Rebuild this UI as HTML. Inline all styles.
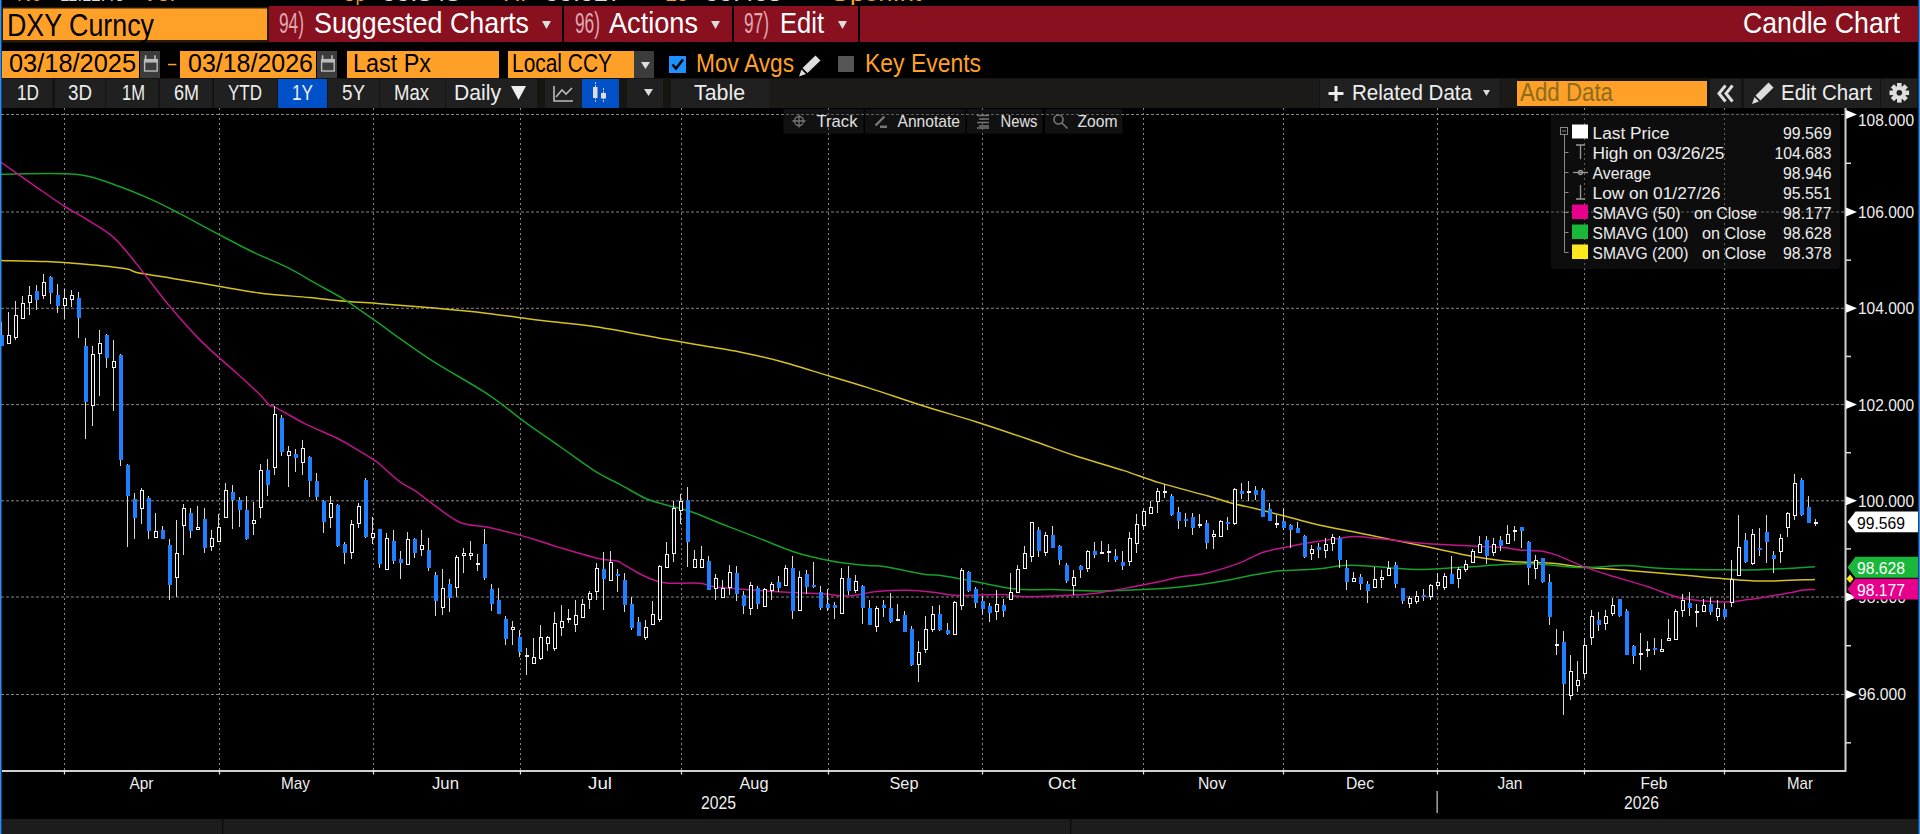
<!DOCTYPE html><html><head><meta charset="utf-8"><style>html,body{margin:0;padding:0;background:#000;overflow:hidden}</style></head><body><svg width="1920" height="834" viewBox="0 0 1920 834" style="display:block;font-family:'Liberation Sans',sans-serif"><rect x="0" y="0" width="1920" height="834" fill="#000" /><g font-size="20"><text x="17" y="1" font-size="20" fill="#ffa028" text-anchor="start" textLength="24" lengthAdjust="spacingAndGlyphs" >Nc</text><text x="60" y="1" font-size="20" fill="#ddd" text-anchor="start" textLength="64" lengthAdjust="spacingAndGlyphs" >11:12:43</text><text x="142" y="1" font-size="20" fill="#ffa028" text-anchor="start" textLength="33" lengthAdjust="spacingAndGlyphs" >Vol</text><text x="343" y="1" font-size="20" fill="#ffa028" text-anchor="start" textLength="22" lengthAdjust="spacingAndGlyphs" >Op</text><text x="382" y="1" font-size="20" fill="#ddd" text-anchor="start" textLength="78" lengthAdjust="spacingAndGlyphs" >99.848</text><text x="503" y="1" font-size="20" fill="#ffa028" text-anchor="start" textLength="23" lengthAdjust="spacingAndGlyphs" >Hi</text><text x="545" y="1" font-size="20" fill="#ddd" text-anchor="start" textLength="77" lengthAdjust="spacingAndGlyphs" >99.927</text><text x="665" y="1" font-size="20" fill="#ffa028" text-anchor="start" textLength="23" lengthAdjust="spacingAndGlyphs" >Lo</text><text x="705" y="1" font-size="20" fill="#ddd" text-anchor="start" textLength="77" lengthAdjust="spacingAndGlyphs" >99.405</text><text x="830" y="1" font-size="20" fill="#ffa028" text-anchor="start" textLength="91" lengthAdjust="spacingAndGlyphs" >OpenInt</text></g><rect x="2" y="7" width="267" height="35.5" fill="#2b1a08" /><rect x="3" y="8.5" width="264" height="31.5" fill="#ffa028" /><text x="7" y="35.5" font-size="31.5" fill="#000" text-anchor="start" textLength="147" lengthAdjust="spacingAndGlyphs" >DXY Curncy</text><rect x="269" y="6" width="1649" height="36" fill="#88101f" /><rect x="562" y="6" width="2" height="36" fill="#000" /><rect x="732" y="6" width="2" height="36" fill="#000" /><rect x="858" y="6" width="2" height="36" fill="#000" /><text x="279" y="33" font-size="29" fill="#e0a8b0" text-anchor="start" textLength="25" lengthAdjust="spacingAndGlyphs" >94)</text><text x="314" y="33" font-size="29" fill="#fff" text-anchor="start" textLength="215" lengthAdjust="spacingAndGlyphs" >Suggested Charts</text><text x="575" y="33" font-size="29" fill="#e0a8b0" text-anchor="start" textLength="25" lengthAdjust="spacingAndGlyphs" >96)</text><text x="609" y="33" font-size="29" fill="#fff" text-anchor="start" textLength="89" lengthAdjust="spacingAndGlyphs" >Actions</text><text x="744" y="33" font-size="29" fill="#e0a8b0" text-anchor="start" textLength="25" lengthAdjust="spacingAndGlyphs" >97)</text><text x="780" y="33" font-size="29" fill="#fff" text-anchor="start" textLength="44" lengthAdjust="spacingAndGlyphs" >Edit</text><path d="M542 21 L551 21 L546.5 29 Z" fill="#ddd"/><path d="M711 21 L720 21 L715.5 29 Z" fill="#ddd"/><path d="M838 21 L847 21 L842.5 29 Z" fill="#ddd"/><text x="1900" y="33" font-size="29" fill="#fff" text-anchor="end" textLength="157" lengthAdjust="spacingAndGlyphs" >Candle Chart</text><rect x="2" y="51" width="137" height="27" fill="#ffa028" /><text x="9" y="72" font-size="26" fill="#000" text-anchor="start" textLength="127" lengthAdjust="spacingAndGlyphs" >03/18/2025</text><rect x="140" y="51" width="20" height="27" fill="#3c3c3c" /><rect x="180" y="51" width="136" height="27" fill="#ffa028" /><text x="188" y="72" font-size="26" fill="#000" text-anchor="start" textLength="125" lengthAdjust="spacingAndGlyphs" >03/18/2026</text><rect x="317" y="51" width="20" height="27" fill="#3c3c3c" /><rect x="144.6" y="59.6" width="12.6" height="11.4" fill="none" stroke="#bbb" stroke-width="1.4"/><rect x="144" y="59" width="13.8" height="3.6" fill="#bbb" /><rect x="144.8" y="55.3" width="1.6" height="4" fill="#bbb" /><rect x="154.2" y="55.3" width="1.6" height="4" fill="#bbb" /><rect x="321.6" y="59.6" width="12.6" height="11.4" fill="none" stroke="#bbb" stroke-width="1.4"/><rect x="321" y="59" width="13.8" height="3.6" fill="#bbb" /><rect x="321.8" y="55.3" width="1.6" height="4" fill="#bbb" /><rect x="331.2" y="55.3" width="1.6" height="4" fill="#bbb" /><rect x="168" y="63.8" width="8.4" height="1.5" fill="#ffa028" /><rect x="347" y="51" width="152" height="27" fill="#ffa028" /><text x="353" y="72" font-size="26" fill="#000" text-anchor="start" textLength="78" lengthAdjust="spacingAndGlyphs" >Last Px</text><rect x="508" y="51" width="126" height="27" fill="#ffa028" /><text x="512" y="72" font-size="26" fill="#000" text-anchor="start" textLength="100" lengthAdjust="spacingAndGlyphs" >Local CCY</text><rect x="634" y="51" width="20" height="27" fill="#3c3c3c" /><path d="M641 62 L650 62 L645.5 69 Z" fill="#ddd"/><rect x="669" y="56" width="17" height="17" fill="#1e90ff" /><path d="M672.5 64.5 L676 68.5 L683 59.5" fill="none" stroke="#000" stroke-width="2.5"/><text x="696" y="72" font-size="26" fill="#ffa028" text-anchor="start" textLength="98" lengthAdjust="spacingAndGlyphs" >Mov Avgs</text><path d="M815.5 55.5 L820.5 60.5 L807.5 73 L802.5 68 Z M801.5 69.5 L806 74 L799 76.5 Z" fill="#ddd"/><rect x="838" y="56" width="16" height="16" fill="#555" /><text x="865" y="72" font-size="26" fill="#ffa028" text-anchor="start" textLength="116" lengthAdjust="spacingAndGlyphs" >Key Events</text><rect x="2" y="78" width="1916" height="30" fill="#141414" /><rect x="769" y="79" width="550" height="29" fill="#1c1a16" /><rect x="2" y="79" width="50" height="29" fill="#202020" /><rect x="55" y="79" width="50" height="29" fill="#202020" /><rect x="106" y="79" width="52" height="29" fill="#202020" /><rect x="160" y="79" width="52" height="29" fill="#202020" /><rect x="214" y="79" width="63" height="29" fill="#202020" /><rect x="278" y="79" width="49" height="29" fill="#0050c8" /><rect x="328" y="79" width="51" height="29" fill="#202020" /><rect x="380" y="79" width="65" height="29" fill="#202020" /><rect x="446" y="79" width="91" height="29" fill="#202020" /><rect x="545" y="79" width="37" height="29" fill="#202020" /><rect x="582" y="79" width="37" height="29" fill="#0050c8" /><rect x="627" y="79" width="36" height="29" fill="#202020" /><rect x="671" y="79" width="98" height="29" fill="#202020" /><rect x="537" y="79" width="8" height="29" fill="#17150f" /><rect x="619" y="79" width="8" height="29" fill="#17150f" /><rect x="663" y="79" width="8" height="29" fill="#17150f" /><text x="17" y="100" font-size="22" fill="#eee" text-anchor="start" textLength="22" lengthAdjust="spacingAndGlyphs" >1D</text><text x="68" y="100" font-size="22" fill="#eee" text-anchor="start" textLength="24" lengthAdjust="spacingAndGlyphs" >3D</text><text x="122" y="100" font-size="22" fill="#eee" text-anchor="start" textLength="23" lengthAdjust="spacingAndGlyphs" >1M</text><text x="174" y="100" font-size="22" fill="#eee" text-anchor="start" textLength="25" lengthAdjust="spacingAndGlyphs" >6M</text><text x="228" y="100" font-size="22" fill="#eee" text-anchor="start" textLength="34" lengthAdjust="spacingAndGlyphs" >YTD</text><text x="292" y="100" font-size="22" fill="#eee" text-anchor="start" textLength="21" lengthAdjust="spacingAndGlyphs" >1Y</text><text x="342" y="100" font-size="22" fill="#eee" text-anchor="start" textLength="23" lengthAdjust="spacingAndGlyphs" >5Y</text><text x="394" y="100" font-size="22" fill="#eee" text-anchor="start" textLength="35" lengthAdjust="spacingAndGlyphs" >Max</text><text x="454" y="100" font-size="22" fill="#eee" text-anchor="start" textLength="47" lengthAdjust="spacingAndGlyphs" >Daily</text><text x="694" y="100" font-size="22" fill="#eee" text-anchor="start" textLength="51" lengthAdjust="spacingAndGlyphs" >Table</text><path d="M511 86 L526 86 L518.5 100 Z" fill="#eee"/><path d="M644 89 L653 89 L648.5 96 Z" fill="#ddd"/><path d="M554 86 L554 101 L573 101 M556 97 L562 90 L566 94 L572 88" fill="none" stroke="#bbb" stroke-width="1.6"/><path d="M595.5 82 V103 M603.5 88 V103" stroke="#ccc" stroke-width="1" stroke-dasharray="2 1"/><rect x="593" y="87" width="4.5" height="11" fill="#ddd" /><rect x="601" y="93" width="5" height="5.5" fill="#ddd" /><rect x="1320" y="79" width="179" height="29" fill="#202020" /><rect x="1499" y="79" width="18" height="29" fill="#1c1a16" /><rect x="1517" y="81" width="190" height="25" fill="#ffa028" /><text x="1520" y="101" font-size="26" fill="#8c6c1e" text-anchor="start" textLength="93" lengthAdjust="spacingAndGlyphs" >Add Data</text><path d="M1336 86 V101 M1328.5 93.5 H1343.5" stroke="#eee" stroke-width="3"/><text x="1352" y="100" font-size="22" fill="#eee" text-anchor="start" textLength="120" lengthAdjust="spacingAndGlyphs" >Related Data</text><path d="M1483 90 L1490 90 L1486.5 96 Z" fill="#ddd"/><rect x="1710" y="79" width="31" height="29" fill="#202020" /><path d="M1725.5 85.5 L1719 93.5 L1725.5 101.5 M1732.5 85.5 L1726 93.5 L1732.5 101.5" fill="none" stroke="#ddd" stroke-width="3"/><rect x="1744" y="79" width="136" height="29" fill="#202020" /><path d="M1768.5 82.5 L1773.5 87.5 L1760.5 100.5 L1755.5 95.5 Z M1754.5 97 L1759 101.5 L1752 104 Z" fill="#ddd"/><text x="1781" y="100" font-size="22" fill="#eee" text-anchor="start" textLength="91" lengthAdjust="spacingAndGlyphs" >Edit Chart</text><rect x="1881" y="79" width="36" height="29" fill="#202020" /><g fill="#ddd"><rect x="1897.0" y="83.0" width="4.6" height="5" transform="rotate(0 1899.3 92.8)"/><rect x="1897.0" y="83.0" width="4.6" height="5" transform="rotate(45 1899.3 92.8)"/><rect x="1897.0" y="83.0" width="4.6" height="5" transform="rotate(90 1899.3 92.8)"/><rect x="1897.0" y="83.0" width="4.6" height="5" transform="rotate(135 1899.3 92.8)"/><rect x="1897.0" y="83.0" width="4.6" height="5" transform="rotate(180 1899.3 92.8)"/><rect x="1897.0" y="83.0" width="4.6" height="5" transform="rotate(225 1899.3 92.8)"/><rect x="1897.0" y="83.0" width="4.6" height="5" transform="rotate(270 1899.3 92.8)"/><rect x="1897.0" y="83.0" width="4.6" height="5" transform="rotate(315 1899.3 92.8)"/><circle cx="1899.3" cy="92.8" r="6.8"/></g><circle cx="1899.3" cy="92.8" r="2.8" fill="#202020"/><rect x="783.5" y="109" width="80.0" height="24.5" fill="#121212"/><rect x="865" y="109" width="100.5" height="24.5" fill="#121212"/><rect x="967" y="109" width="75.5" height="24.5" fill="#121212"/><rect x="1045" y="109" width="77.5" height="24.5" fill="#121212"/><rect x="1551" y="113" width="289" height="156" rx="3" fill="#0e0e0e"/><g id="grid"><line x1="1" y1="114.5" x2="1845" y2="114.5" stroke="#858585" stroke-width="1" stroke-dasharray="3 2"/><line x1="1" y1="212" x2="1845" y2="212" stroke="#858585" stroke-width="1" stroke-dasharray="3 2"/><line x1="1" y1="308.3" x2="1845" y2="308.3" stroke="#858585" stroke-width="1" stroke-dasharray="3 2"/><line x1="1" y1="404.6" x2="1845" y2="404.6" stroke="#858585" stroke-width="1" stroke-dasharray="3 2"/><line x1="1" y1="500.8" x2="1845" y2="500.8" stroke="#858585" stroke-width="1" stroke-dasharray="3 2"/><line x1="1" y1="597.0" x2="1845" y2="597.0" stroke="#858585" stroke-width="1" stroke-dasharray="3 2"/><line x1="1" y1="694.5" x2="1845" y2="694.5" stroke="#858585" stroke-width="1" stroke-dasharray="3 2"/><line x1="64.5" y1="108" x2="64.5" y2="770" stroke="#858585" stroke-width="1" stroke-dasharray="2 3"/><line x1="219.5" y1="108" x2="219.5" y2="770" stroke="#858585" stroke-width="1" stroke-dasharray="2 3"/><line x1="373.5" y1="108" x2="373.5" y2="770" stroke="#858585" stroke-width="1" stroke-dasharray="2 3"/><line x1="520.5" y1="108" x2="520.5" y2="770" stroke="#858585" stroke-width="1" stroke-dasharray="2 3"/><line x1="681.5" y1="108" x2="681.5" y2="770" stroke="#858585" stroke-width="1" stroke-dasharray="2 3"/><line x1="828.5" y1="108" x2="828.5" y2="770" stroke="#858585" stroke-width="1" stroke-dasharray="2 3"/><line x1="982.5" y1="108" x2="982.5" y2="770" stroke="#858585" stroke-width="1" stroke-dasharray="2 3"/><line x1="1143.5" y1="108" x2="1143.5" y2="770" stroke="#858585" stroke-width="1" stroke-dasharray="2 3"/><line x1="1283.5" y1="108" x2="1283.5" y2="770" stroke="#858585" stroke-width="1" stroke-dasharray="2 3"/><line x1="1437.5" y1="108" x2="1437.5" y2="770" stroke="#858585" stroke-width="1" stroke-dasharray="2 3"/><line x1="1584.5" y1="108" x2="1584.5" y2="770" stroke="#858585" stroke-width="1" stroke-dasharray="2 3"/><line x1="1724.5" y1="108" x2="1724.5" y2="770" stroke="#858585" stroke-width="1" stroke-dasharray="2 3"/></g><path d="M0.0 260.5 C7.8 260.7 33.0 261.0 46.8 261.6 C60.6 262.2 69.5 262.9 82.7 264.1 C95.9 265.3 116.9 267.4 125.9 268.8 C134.9 270.2 128.9 270.8 136.7 272.4 C144.5 274.0 159.5 276.3 172.7 278.5 C185.9 280.7 201.4 283.3 215.8 285.7 C230.2 288.1 243.4 290.9 259.0 292.9 C274.6 294.9 295.0 296.2 309.4 297.6 C323.8 299.0 333.5 300.2 345.3 301.2 C357.1 302.2 365.2 302.6 380.0 303.7 C394.8 304.8 416.0 306.4 434.0 308.0 C452.0 309.6 469.9 311.3 487.9 313.4 C505.9 315.5 523.9 318.4 541.9 320.6 C559.9 322.8 574.8 323.5 595.8 326.7 C616.8 329.9 649.8 336.4 667.8 339.6 C685.8 342.8 691.7 343.8 703.7 345.8 C715.7 347.9 727.0 349.3 739.7 351.9 C752.4 354.5 767.6 357.9 780.0 361.2 C792.4 364.4 799.4 367.0 814.0 371.4 C828.6 375.8 849.9 381.9 867.9 387.6 C885.9 393.3 903.9 399.8 921.9 405.5 C939.9 411.2 957.8 416.0 975.8 421.7 C993.8 427.4 1013.1 434.0 1029.8 439.7 C1046.5 445.4 1060.2 450.9 1075.9 456.0 C1091.6 461.1 1109.9 466.1 1123.9 470.6 C1137.9 475.1 1146.0 478.7 1160.0 482.9 C1174.0 487.1 1196.0 492.6 1208.0 496.0 C1220.0 499.4 1222.8 500.8 1232.0 503.2 C1241.2 505.6 1251.1 507.4 1263.1 510.4 C1275.1 513.4 1294.4 518.7 1303.9 521.2 C1313.4 523.7 1309.3 522.9 1320.0 525.2 C1330.7 527.5 1351.2 531.4 1368.0 534.8 C1384.8 538.2 1404.7 542.3 1420.7 545.6 C1436.7 548.9 1452.7 552.5 1463.9 554.7 C1475.1 556.9 1480.0 557.6 1487.9 558.8 C1495.8 559.9 1500.5 560.9 1511.2 561.6 C1521.9 562.3 1539.9 562.3 1551.9 563.2 C1563.9 564.1 1570.3 565.9 1583.1 567.1 C1595.9 568.3 1611.2 569.0 1628.7 570.4 C1646.2 571.8 1672.1 574.2 1688.0 575.6 C1703.9 577.0 1711.9 577.8 1723.9 578.7 C1735.9 579.6 1744.7 581.0 1759.9 581.1 C1775.1 581.2 1805.8 579.7 1815.0 579.4" fill="none" stroke="#d6c21e" stroke-width="1.5" stroke-linejoin="round"/><path d="M0.0 174.2 C12.6 174.2 56.3 172.4 75.5 174.2 C94.7 176.0 102.5 180.8 115.1 185.0 C127.7 189.2 140.3 194.6 151.1 199.4 C161.9 204.2 169.1 208.1 179.9 213.7 C190.7 219.3 203.8 226.5 215.8 232.8 C227.8 239.1 239.8 245.7 251.8 251.5 C263.8 257.3 277.0 262.3 287.8 267.7 C298.6 273.1 306.9 278.5 316.5 283.9 C326.1 289.3 334.7 293.4 345.3 300.1 C355.9 306.8 370.9 317.8 380.0 324.2 C389.1 330.6 391.0 332.3 400.0 338.6 C409.0 344.9 419.4 352.6 434.0 361.9 C448.6 371.2 472.9 384.4 487.9 394.3 C502.9 404.2 511.9 412.6 523.9 421.3 C535.9 430.0 547.9 438.1 559.9 446.5 C571.9 454.9 585.8 465.4 595.8 471.7 C605.8 478.0 611.6 479.9 620.0 484.4 C628.4 488.9 638.4 495.3 646.4 498.8 C654.4 502.3 660.4 503.3 668.0 505.5 C675.6 507.7 681.9 508.5 691.9 512.0 C701.9 515.5 716.5 522.0 727.9 526.4 C739.2 530.8 749.2 534.4 760.0 538.6 C770.8 542.8 783.7 548.4 792.7 551.5 C801.7 554.6 806.4 555.5 814.0 557.3 C821.6 559.1 829.4 560.9 838.4 562.3 C847.4 563.7 860.3 564.9 867.9 565.6 C875.5 566.3 874.9 565.0 883.9 566.4 C892.9 567.8 911.9 572.3 921.9 573.9 C931.9 575.5 934.9 574.6 943.9 575.9 C952.9 577.2 963.8 579.6 975.8 581.8 C987.8 584.0 1003.3 587.8 1016.0 589.1 C1028.7 590.4 1037.9 589.3 1051.9 589.6 C1065.9 589.9 1084.7 591.0 1099.9 591.0 C1115.1 591.0 1129.8 590.3 1143.1 589.6 C1156.4 588.9 1168.4 588.1 1180.0 587.0 C1191.6 585.9 1200.1 584.9 1212.8 582.8 C1225.5 580.7 1244.7 576.6 1255.9 574.6 C1267.1 572.6 1269.9 571.7 1279.9 570.8 C1289.9 569.9 1305.2 570.0 1315.9 569.1 C1326.6 568.2 1335.3 566.0 1344.0 565.5 C1352.7 565.0 1356.0 565.2 1368.0 565.9 C1380.0 566.6 1399.9 569.3 1415.9 569.5 C1431.9 569.7 1445.2 568.1 1463.9 567.1 C1482.6 566.1 1508.1 563.7 1528.0 563.8 C1547.9 563.9 1567.1 567.3 1583.1 567.6 C1599.1 567.9 1610.4 565.5 1623.9 565.6 C1637.4 565.7 1647.3 567.7 1664.0 568.4 C1680.7 569.1 1707.9 569.6 1723.9 569.8 C1739.9 570.0 1747.9 570.1 1759.9 569.8 C1771.9 569.5 1786.7 568.4 1795.9 567.9 C1805.1 567.4 1811.8 566.9 1815.0 566.7" fill="none" stroke="#14a02a" stroke-width="1.5" stroke-linejoin="round"/><path d="M0.0 161.6 C6.0 165.8 25.2 179.3 36.0 186.8 C46.8 194.3 56.3 201.1 64.7 206.5 C73.1 211.9 78.2 214.0 86.3 219.1 C94.4 224.2 104.9 229.6 113.3 237.1 C121.7 244.6 127.4 252.7 136.7 264.1 C146.0 275.5 158.3 292.6 169.1 305.5 C179.9 318.4 190.0 330.0 201.4 341.4 C212.8 352.8 227.6 364.9 237.4 373.8 C247.2 382.7 254.6 389.5 260.0 394.8 C265.4 400.1 267.4 403.5 269.8 405.5 C272.2 407.5 268.4 403.7 274.4 406.8 C280.4 409.9 295.4 419.0 305.8 424.2 C316.2 429.4 328.4 433.9 336.7 438.0 C345.0 442.1 349.5 445.0 355.9 448.8 C362.3 452.6 371.1 458.1 375.1 460.7 C379.1 463.3 376.0 461.1 380.0 464.5 C384.0 467.9 393.1 476.6 399.1 481.1 C405.1 485.6 411.2 488.2 416.0 491.4 C420.8 494.6 420.7 495.2 427.9 500.3 C435.1 505.4 449.1 517.5 459.1 522.0 C469.1 526.5 477.6 524.9 488.0 527.2 C498.4 529.5 512.5 533.2 521.5 535.6 C530.5 538.0 535.5 539.8 541.9 541.8 C548.3 543.8 550.9 544.9 559.9 547.6 C568.9 550.3 586.3 555.6 595.9 557.9 C605.5 560.2 613.5 560.5 617.5 561.2 C621.5 561.9 616.2 560.2 620.0 562.3 C623.8 564.4 634.0 570.9 640.0 574.0 C646.0 577.1 651.3 579.3 656.0 580.8 C660.7 582.3 660.8 582.8 668.0 583.2 C675.2 583.6 691.1 582.6 699.1 583.2 C707.1 583.8 707.2 585.9 716.0 587.0 C724.8 588.1 739.9 589.0 751.9 589.9 C763.9 590.8 776.5 591.7 787.9 592.3 C799.2 592.9 810.0 592.9 820.0 593.5 C830.0 594.1 838.5 596.2 848.0 595.9 C857.5 595.6 866.7 592.4 876.7 591.5 C886.7 590.6 897.9 590.1 907.9 590.3 C917.9 590.5 928.4 591.8 936.7 592.7 C945.0 593.6 947.2 595.2 957.8 595.5 C968.3 595.8 988.3 594.3 1000.0 594.5 C1011.7 594.7 1015.8 596.7 1028.0 596.8 C1040.2 596.9 1061.5 595.8 1073.5 595.1 C1085.5 594.4 1089.9 594.1 1099.9 592.7 C1109.9 591.3 1123.5 588.6 1133.5 586.7 C1143.5 584.8 1152.2 583.1 1160.0 581.5 C1167.8 579.9 1172.0 578.6 1180.0 577.1 C1188.0 575.6 1198.2 575.0 1208.0 572.7 C1217.8 570.4 1229.9 566.5 1239.1 563.1 C1248.3 559.7 1255.5 554.9 1263.1 552.3 C1270.7 549.7 1277.1 549.1 1284.7 547.5 C1292.3 545.9 1299.1 544.3 1308.7 542.7 C1318.3 541.1 1333.8 538.9 1342.3 537.9 C1350.8 536.9 1347.7 535.9 1360.0 536.7 C1372.3 537.5 1398.6 541.2 1415.9 542.7 C1433.2 544.2 1449.5 544.8 1463.9 545.6 C1478.3 546.4 1493.0 546.8 1502.3 547.5 C1511.6 548.2 1513.3 549.3 1520.0 549.9 C1526.7 550.5 1536.3 550.3 1542.4 551.2 C1548.5 552.1 1549.9 552.6 1556.7 555.1 C1563.5 557.6 1574.3 563.0 1583.1 566.4 C1591.9 569.8 1598.7 571.8 1609.5 575.2 C1620.3 578.6 1636.0 582.9 1647.9 586.7 C1659.8 590.5 1668.1 595.4 1680.8 597.9 C1693.5 600.4 1712.7 601.7 1723.9 602.0 C1735.1 602.3 1740.7 600.5 1747.9 599.6 C1755.1 598.7 1760.3 597.8 1767.1 596.7 C1773.9 595.6 1782.7 594.2 1788.7 593.1 C1794.7 592.0 1798.7 590.6 1803.1 590.0 C1807.5 589.4 1813.0 589.6 1815.0 589.5" fill="none" stroke="#c0148c" stroke-width="1.5" stroke-linejoin="round"/><path d="M1.5 322V346M8.5 312V344M15.5 301V340M22.5 296V319M29.5 286V315M36.5 285V310M43.5 274V299M50.5 276V304M57.5 284V313M64.5 289V319M71.5 290V307M78.5 292V338M85.5 338V439M92.5 346V426M99.5 330V396M106.5 334V368M113.5 340V411M120.5 354V466M127.5 464V547M134.5 493V539M141.5 488V524M148.5 496V539M155.5 513V538M162.5 526V539M169.5 539V600M176.5 520V597M183.5 504V555M190.5 508V538M197.5 506V530M204.5 508V553M211.5 530V551M218.5 514V542M225.5 483V518M232.5 485V529M239.5 497V527M246.5 496V540M253.5 502V535M260.5 464V518M267.5 459V496M274.5 406V475M281.5 415V456M288.5 446V487M295.5 449V472M302.5 440V475M309.5 456V497M316.5 473V500M323.5 500V533M330.5 496V528M337.5 504V547M344.5 542V564M351.5 520V559M358.5 503V528M365.5 478V538M372.5 517V544M379.5 529V568M386.5 533V570M393.5 530V564M400.5 551V579M407.5 532V565M414.5 538V558M421.5 530V556M428.5 538V571M435.5 572V616M442.5 569V615M449.5 579V612M456.5 555V597M463.5 548V573M470.5 541V560M477.5 554V571M484.5 529V580M491.5 584V611M498.5 588V614M505.5 616V645M512.5 621V645M519.5 630V657M526.5 648V675M533.5 638V664M540.5 625V660M547.5 636V651M554.5 612V651M561.5 605V636M568.5 609V623M575.5 600V632M582.5 599V618M589.5 591V609M596.5 563V600M603.5 552V610M610.5 551V581M617.5 569V592M624.5 573V612M631.5 597V630M638.5 617V636M645.5 620V640M652.5 601V625M659.5 565V622M666.5 542V568M673.5 501V562M680.5 494V524M687.5 487V567M694.5 550V568M701.5 546V568M708.5 556V590M715.5 574V600M722.5 580V598M729.5 565V595M736.5 566V601M743.5 591V614M750.5 582V615M757.5 586V609M764.5 588V607M771.5 582V600M778.5 576V592M785.5 565V586M792.5 556V619M799.5 571V611M806.5 570V594M813.5 562V588M820.5 586V610M827.5 589V611M834.5 602V619M841.5 568V614M848.5 566V595M855.5 575V593M862.5 585V624M869.5 600V625M876.5 606V632M883.5 600V617M890.5 593V623M897.5 604V621M904.5 611V632M911.5 626V666M918.5 641V682M925.5 616V653M932.5 606V632M939.5 605V631M947.5 623V635M954.5 601V635M961.5 568V610M968.5 571V592M975.5 587V608M982.5 596V615M989.5 603V622M996.5 590V620M1003.5 599V617M1010.5 573V600M1017.5 565V593M1024.5 546V569M1031.5 522V562M1038.5 527V557M1045.5 532V556M1052.5 526V548M1059.5 545V565M1066.5 563V583M1073.5 570V595M1080.5 565V578M1087.5 550V572M1094.5 542V558M1101.5 541V554M1108.5 544V562M1115.5 549V562M1122.5 551V570M1129.5 532V566M1136.5 514V553M1143.5 508V530M1150.5 501V514M1157.5 488V513M1164.5 484V498M1171.5 494V516M1178.5 507V529M1185.5 513V527M1192.5 513V535M1199.5 514V528M1206.5 520V549M1213.5 530V549M1220.5 520V537M1227.5 517V530M1234.5 488V525M1241.5 483V499M1248.5 481V501M1255.5 486V500M1262.5 488V517M1269.5 503V521M1276.5 515V528M1283.5 508V530M1290.5 524V548M1297.5 522V533M1304.5 535V558M1311.5 545V560M1318.5 543V558M1325.5 538V558M1332.5 534V551M1339.5 536V568M1346.5 560V590M1353.5 572V582M1360.5 574V590M1367.5 581V603M1374.5 567V588M1381.5 570V588M1388.5 561V576M1395.5 562V588M1402.5 588V604M1409.5 596V608M1416.5 591V604M1423.5 589V601M1430.5 584V600M1437.5 573V589M1444.5 573V590M1451.5 556V584M1458.5 567V588M1465.5 560V572M1472.5 549V563M1479.5 536V553M1486.5 536V564M1493.5 538V556M1500.5 536V551M1507.5 525V544M1514.5 526V541M1521.5 527V548M1528.5 541V585M1535.5 555V579M1542.5 558V583M1549.5 574V625M1556.5 629V655M1563.5 631V715M1570.5 655V700M1577.5 661V692M1584.5 638V678M1591.5 610V645M1598.5 612V631M1605.5 610V630M1612.5 598V616M1619.5 599V617M1626.5 609V655M1633.5 645V664M1640.5 633V670M1647.5 641V657M1654.5 638V655M1661.5 639V652M1668.5 619V641M1675.5 609V640M1682.5 594V617M1689.5 592V616M1696.5 604V627M1703.5 599V612M1710.5 597V615M1717.5 600V621M1724.5 603V618M1731.5 560V607M1738.5 515V576M1745.5 533V563M1752.5 529V565M1759.5 528V556M1766.5 515V563M1773.5 551V573M1780.5 534V563M1787.5 512V537M1794.5 474V520M1801.5 478V516M1808.5 496V523M1815.5 519V526" stroke="#d8d8d8" stroke-width="1" fill="none"/><g fill="#000" stroke="#f2f2f2" stroke-width="1"><rect x="7.5" y="335.5" width="3" height="8"/><rect x="14.5" y="315.5" width="3" height="22"/><rect x="21.5" y="303.5" width="3" height="15"/><rect x="28.5" y="295.5" width="3" height="7"/><rect x="42.5" y="282.5" width="3" height="13"/><rect x="63.5" y="298.5" width="3" height="7"/><rect x="70.5" y="295.5" width="3" height="4"/><rect x="91.5" y="354.5" width="3" height="51"/><rect x="98.5" y="343.5" width="3" height="10"/><rect x="112.5" y="361.5" width="3" height="6"/><rect x="140.5" y="490.5" width="3" height="18"/><rect x="154.5" y="531.5" width="3" height="6"/><rect x="175.5" y="553.5" width="3" height="24"/><rect x="182.5" y="508.5" width="3" height="17"/><rect x="196.5" y="527.5" width="3" height="2"/><rect x="210.5" y="538.5" width="3" height="8"/><rect x="217.5" y="527.5" width="3" height="14"/><rect x="224.5" y="490.5" width="3" height="27"/><rect x="252.5" y="520.5" width="3" height="3"/><rect x="259.5" y="470.5" width="3" height="37"/><rect x="273.5" y="414.5" width="3" height="53"/><rect x="287.5" y="451.5" width="3" height="4"/><rect x="301.5" y="448.5" width="3" height="14"/><rect x="329.5" y="503.5" width="3" height="14"/><rect x="350.5" y="524.5" width="3" height="28"/><rect x="357.5" y="506.5" width="3" height="17"/><rect x="371.5" y="533.5" width="3" height="4"/><rect x="385.5" y="538.5" width="3" height="31"/><rect x="406.5" y="539.5" width="3" height="25"/><rect x="420.5" y="545.5" width="3" height="4"/><rect x="441.5" y="588.5" width="3" height="19"/><rect x="455.5" y="557.5" width="3" height="30"/><rect x="462.5" y="553.5" width="3" height="2"/><rect x="469.5" y="553.5" width="3" height="2"/><rect x="476.5" y="563.5" width="3" height="1"/><rect x="511.5" y="627.5" width="3" height="2"/><rect x="525.5" y="655.5" width="3" height="1"/><rect x="532.5" y="657.5" width="3" height="6"/><rect x="539.5" y="637.5" width="3" height="21"/><rect x="546.5" y="637.5" width="3" height="6"/><rect x="553.5" y="623.5" width="3" height="25"/><rect x="560.5" y="621.5" width="3" height="6"/><rect x="567.5" y="618.5" width="3" height="1"/><rect x="574.5" y="615.5" width="3" height="9"/><rect x="581.5" y="604.5" width="3" height="13"/><rect x="588.5" y="593.5" width="3" height="6"/><rect x="595.5" y="568.5" width="3" height="23"/><rect x="609.5" y="562.5" width="3" height="18"/><rect x="644.5" y="627.5" width="3" height="10"/><rect x="651.5" y="614.5" width="3" height="10"/><rect x="658.5" y="566.5" width="3" height="53"/><rect x="665.5" y="554.5" width="3" height="13"/><rect x="672.5" y="508.5" width="3" height="45"/><rect x="679.5" y="501.5" width="3" height="9"/><rect x="693.5" y="559.5" width="3" height="8"/><rect x="700.5" y="559.5" width="3" height="8"/><rect x="714.5" y="578.5" width="3" height="10"/><rect x="721.5" y="588.5" width="3" height="9"/><rect x="728.5" y="572.5" width="3" height="15"/><rect x="749.5" y="585.5" width="3" height="23"/><rect x="763.5" y="589.5" width="3" height="17"/><rect x="770.5" y="584.5" width="3" height="6"/><rect x="784.5" y="568.5" width="3" height="17"/><rect x="798.5" y="577.5" width="3" height="33"/><rect x="840.5" y="578.5" width="3" height="35"/><rect x="854.5" y="581.5" width="3" height="9"/><rect x="875.5" y="608.5" width="3" height="18"/><rect x="896.5" y="619.5" width="3" height="1"/><rect x="917.5" y="652.5" width="3" height="12"/><rect x="924.5" y="629.5" width="3" height="20"/><rect x="931.5" y="614.5" width="3" height="15"/><rect x="953.5" y="602.5" width="3" height="32"/><rect x="960.5" y="570.5" width="3" height="35"/><rect x="995.5" y="604.5" width="3" height="7"/><rect x="1009.5" y="592.5" width="3" height="7"/><rect x="1016.5" y="569.5" width="3" height="23"/><rect x="1023.5" y="553.5" width="3" height="15"/><rect x="1030.5" y="522.5" width="3" height="34"/><rect x="1044.5" y="535.5" width="3" height="17"/><rect x="1072.5" y="577.5" width="3" height="8"/><rect x="1086.5" y="551.5" width="3" height="17"/><rect x="1100.5" y="552.5" width="3" height="1"/><rect x="1107.5" y="551.5" width="3" height="1"/><rect x="1128.5" y="538.5" width="3" height="23"/><rect x="1135.5" y="524.5" width="3" height="19"/><rect x="1142.5" y="511.5" width="3" height="14"/><rect x="1149.5" y="507.5" width="3" height="6"/><rect x="1156.5" y="491.5" width="3" height="10"/><rect x="1163.5" y="491.5" width="3" height="1"/><rect x="1198.5" y="524.5" width="3" height="1"/><rect x="1212.5" y="534.5" width="3" height="2"/><rect x="1219.5" y="521.5" width="3" height="15"/><rect x="1233.5" y="489.5" width="3" height="34"/><rect x="1247.5" y="491.5" width="3" height="1"/><rect x="1275.5" y="523.5" width="3" height="1"/><rect x="1310.5" y="549.5" width="3" height="4"/><rect x="1324.5" y="544.5" width="3" height="6"/><rect x="1331.5" y="537.5" width="3" height="6"/><rect x="1352.5" y="578.5" width="3" height="3"/><rect x="1373.5" y="579.5" width="3" height="8"/><rect x="1380.5" y="577.5" width="3" height="2"/><rect x="1387.5" y="568.5" width="3" height="7"/><rect x="1408.5" y="598.5" width="3" height="5"/><rect x="1415.5" y="596.5" width="3" height="5"/><rect x="1429.5" y="585.5" width="3" height="11"/><rect x="1436.5" y="582.5" width="3" height="3"/><rect x="1443.5" y="576.5" width="3" height="11"/><rect x="1457.5" y="569.5" width="3" height="9"/><rect x="1464.5" y="564.5" width="3" height="5"/><rect x="1471.5" y="551.5" width="3" height="11"/><rect x="1478.5" y="544.5" width="3" height="8"/><rect x="1492.5" y="544.5" width="3" height="8"/><rect x="1506.5" y="534.5" width="3" height="9"/><rect x="1513.5" y="530.5" width="3" height="1"/><rect x="1534.5" y="560.5" width="3" height="8"/><rect x="1555.5" y="644.5" width="3" height="1"/><rect x="1569.5" y="671.5" width="3" height="24"/><rect x="1576.5" y="680.5" width="3" height="5"/><rect x="1583.5" y="645.5" width="3" height="28"/><rect x="1590.5" y="616.5" width="3" height="21"/><rect x="1604.5" y="616.5" width="3" height="7"/><rect x="1611.5" y="605.5" width="3" height="8"/><rect x="1639.5" y="653.5" width="3" height="1"/><rect x="1646.5" y="649.5" width="3" height="1"/><rect x="1660.5" y="649.5" width="3" height="2"/><rect x="1667.5" y="638.5" width="3" height="2"/><rect x="1674.5" y="611.5" width="3" height="28"/><rect x="1681.5" y="600.5" width="3" height="10"/><rect x="1695.5" y="611.5" width="3" height="1"/><rect x="1702.5" y="605.5" width="3" height="6"/><rect x="1716.5" y="608.5" width="3" height="8"/><rect x="1730.5" y="579.5" width="3" height="23"/><rect x="1737.5" y="547.5" width="3" height="28"/><rect x="1751.5" y="534.5" width="3" height="29"/><rect x="1779.5" y="538.5" width="3" height="13"/><rect x="1786.5" y="513.5" width="3" height="14"/><rect x="1793.5" y="483.5" width="3" height="32"/><rect x="1814.5" y="522.5" width="3" height="1"/></g><g fill="#1f80ff"><rect x="0" y="335" width="4" height="11"/><rect x="35" y="291" width="4" height="9"/><rect x="49" y="277" width="4" height="16"/><rect x="56" y="295" width="4" height="11"/><rect x="77" y="298" width="4" height="20"/><rect x="84" y="346" width="4" height="56"/><rect x="105" y="335" width="4" height="23"/><rect x="119" y="355" width="4" height="105"/><rect x="126" y="465" width="4" height="31"/><rect x="133" y="499" width="4" height="19"/><rect x="147" y="498" width="4" height="33"/><rect x="161" y="530" width="4" height="9"/><rect x="168" y="545" width="4" height="40"/><rect x="189" y="513" width="4" height="18"/><rect x="203" y="519" width="4" height="29"/><rect x="231" y="492" width="4" height="8"/><rect x="238" y="500" width="4" height="10"/><rect x="245" y="510" width="4" height="29"/><rect x="266" y="470" width="4" height="15"/><rect x="280" y="418" width="4" height="34"/><rect x="294" y="454" width="4" height="4"/><rect x="308" y="457" width="4" height="24"/><rect x="315" y="481" width="4" height="16"/><rect x="322" y="501" width="4" height="21"/><rect x="336" y="505" width="4" height="41"/><rect x="343" y="544" width="4" height="9"/><rect x="364" y="480" width="4" height="57"/><rect x="378" y="529" width="4" height="35"/><rect x="392" y="541" width="4" height="20"/><rect x="399" y="559" width="4" height="4"/><rect x="413" y="539" width="4" height="14"/><rect x="427" y="550" width="4" height="18"/><rect x="434" y="575" width="4" height="26"/><rect x="448" y="584" width="4" height="14"/><rect x="483" y="544" width="4" height="34"/><rect x="490" y="589" width="4" height="15"/><rect x="497" y="600" width="4" height="14"/><rect x="504" y="619" width="4" height="20"/><rect x="518" y="637" width="4" height="15"/><rect x="602" y="569" width="4" height="10"/><rect x="616" y="574" width="4" height="2"/><rect x="623" y="580" width="4" height="25"/><rect x="630" y="604" width="4" height="24"/><rect x="637" y="622" width="4" height="14"/><rect x="686" y="500" width="4" height="42"/><rect x="707" y="561" width="4" height="29"/><rect x="735" y="573" width="4" height="21"/><rect x="742" y="595" width="4" height="11"/><rect x="756" y="588" width="4" height="16"/><rect x="777" y="582" width="4" height="6"/><rect x="791" y="568" width="4" height="43"/><rect x="805" y="574" width="4" height="13"/><rect x="812" y="585" width="4" height="2"/><rect x="819" y="592" width="4" height="16"/><rect x="826" y="604" width="4" height="4"/><rect x="833" y="605" width="4" height="3"/><rect x="847" y="578" width="4" height="13"/><rect x="861" y="586" width="4" height="22"/><rect x="868" y="608" width="4" height="17"/><rect x="882" y="605" width="4" height="3"/><rect x="889" y="608" width="4" height="14"/><rect x="903" y="615" width="4" height="17"/><rect x="910" y="629" width="4" height="36"/><rect x="938" y="614" width="4" height="16"/><rect x="946" y="630" width="4" height="4"/><rect x="967" y="572" width="4" height="19"/><rect x="974" y="589" width="4" height="14"/><rect x="981" y="601" width="4" height="8"/><rect x="988" y="606" width="4" height="7"/><rect x="1002" y="605" width="4" height="6"/><rect x="1037" y="530" width="4" height="21"/><rect x="1051" y="535" width="4" height="13"/><rect x="1058" y="546" width="4" height="14"/><rect x="1065" y="565" width="4" height="16"/><rect x="1079" y="566" width="4" height="4"/><rect x="1093" y="551" width="4" height="4"/><rect x="1114" y="556" width="4" height="4"/><rect x="1121" y="562" width="4" height="4"/><rect x="1170" y="496" width="4" height="19"/><rect x="1177" y="512" width="4" height="9"/><rect x="1184" y="519" width="4" height="2"/><rect x="1191" y="517" width="4" height="11"/><rect x="1205" y="523" width="4" height="20"/><rect x="1226" y="522" width="4" height="2"/><rect x="1240" y="491" width="4" height="3"/><rect x="1254" y="490" width="4" height="5"/><rect x="1261" y="490" width="4" height="27"/><rect x="1268" y="509" width="4" height="12"/><rect x="1282" y="521" width="4" height="7"/><rect x="1289" y="525" width="4" height="5"/><rect x="1296" y="528" width="4" height="5"/><rect x="1303" y="536" width="4" height="21"/><rect x="1317" y="547" width="4" height="3"/><rect x="1338" y="538" width="4" height="22"/><rect x="1345" y="568" width="4" height="14"/><rect x="1359" y="577" width="4" height="7"/><rect x="1366" y="584" width="4" height="7"/><rect x="1394" y="565" width="4" height="19"/><rect x="1401" y="588" width="4" height="13"/><rect x="1422" y="595" width="4" height="2"/><rect x="1450" y="574" width="4" height="10"/><rect x="1485" y="540" width="4" height="16"/><rect x="1499" y="540" width="4" height="6"/><rect x="1520" y="527" width="4" height="4"/><rect x="1527" y="542" width="4" height="26"/><rect x="1541" y="558" width="4" height="24"/><rect x="1548" y="582" width="4" height="35"/><rect x="1562" y="642" width="4" height="42"/><rect x="1597" y="620" width="4" height="5"/><rect x="1618" y="599" width="4" height="17"/><rect x="1625" y="611" width="4" height="44"/><rect x="1632" y="646" width="4" height="10"/><rect x="1653" y="648" width="4" height="2"/><rect x="1688" y="603" width="4" height="5"/><rect x="1709" y="604" width="4" height="8"/><rect x="1723" y="609" width="4" height="8"/><rect x="1744" y="540" width="4" height="22"/><rect x="1758" y="548" width="4" height="2"/><rect x="1765" y="532" width="4" height="10"/><rect x="1772" y="555" width="4" height="4"/><rect x="1800" y="480" width="4" height="35"/><rect x="1807" y="507" width="4" height="16"/></g><path d="M2 771 H1845.5 V108" fill="none" stroke="#d0d0d0" stroke-width="2"/><line x1="64.5" y1="770" x2="64.5" y2="774.5" stroke="#ddd" stroke-width="1.3"/><line x1="219.5" y1="770" x2="219.5" y2="774.5" stroke="#ddd" stroke-width="1.3"/><line x1="373.5" y1="770" x2="373.5" y2="774.5" stroke="#ddd" stroke-width="1.3"/><line x1="520.5" y1="770" x2="520.5" y2="774.5" stroke="#ddd" stroke-width="1.3"/><line x1="681.5" y1="770" x2="681.5" y2="774.5" stroke="#ddd" stroke-width="1.3"/><line x1="828.5" y1="770" x2="828.5" y2="774.5" stroke="#ddd" stroke-width="1.3"/><line x1="982.5" y1="770" x2="982.5" y2="774.5" stroke="#ddd" stroke-width="1.3"/><line x1="1143.5" y1="770" x2="1143.5" y2="774.5" stroke="#ddd" stroke-width="1.3"/><line x1="1283.5" y1="770" x2="1283.5" y2="774.5" stroke="#ddd" stroke-width="1.3"/><line x1="1437.5" y1="770" x2="1437.5" y2="774.5" stroke="#ddd" stroke-width="1.3"/><line x1="1584.5" y1="770" x2="1584.5" y2="774.5" stroke="#ddd" stroke-width="1.3"/><line x1="1724.5" y1="770" x2="1724.5" y2="774.5" stroke="#ddd" stroke-width="1.3"/><line x1="1846" y1="163.25" x2="1851" y2="163.25" stroke="#ddd" stroke-width="1.5"/><line x1="1846" y1="260.15" x2="1851" y2="260.15" stroke="#ddd" stroke-width="1.5"/><line x1="1846" y1="356.45000000000005" x2="1851" y2="356.45000000000005" stroke="#ddd" stroke-width="1.5"/><line x1="1846" y1="452.70000000000005" x2="1851" y2="452.70000000000005" stroke="#ddd" stroke-width="1.5"/><line x1="1846" y1="548.9" x2="1851" y2="548.9" stroke="#ddd" stroke-width="1.5"/><line x1="1846" y1="645.75" x2="1851" y2="645.75" stroke="#ddd" stroke-width="1.5"/><line x1="1846" y1="742.8" x2="1851" y2="742.8" stroke="#ddd" stroke-width="1.5"/><path d="M1846 110.0 L1857 114.5 L1846 119.0 Z" fill="#fff"/><text x="1858" y="125.5" font-size="17" fill="#eee" text-anchor="start" textLength="56" lengthAdjust="spacingAndGlyphs" >108.000</text><path d="M1846 207.5 L1857 212.0 L1846 216.5 Z" fill="#fff"/><text x="1858" y="218" font-size="17" fill="#eee" text-anchor="start" textLength="56" lengthAdjust="spacingAndGlyphs" >106.000</text><path d="M1846 303.8 L1857 308.3 L1846 312.8 Z" fill="#fff"/><text x="1858" y="314" font-size="17" fill="#eee" text-anchor="start" textLength="56" lengthAdjust="spacingAndGlyphs" >104.000</text><path d="M1846 400.1 L1857 404.6 L1846 409.1 Z" fill="#fff"/><text x="1858" y="411" font-size="17" fill="#eee" text-anchor="start" textLength="56" lengthAdjust="spacingAndGlyphs" >102.000</text><path d="M1846 496.3 L1857 500.8 L1846 505.3 Z" fill="#fff"/><text x="1858" y="507" font-size="17" fill="#eee" text-anchor="start" textLength="56" lengthAdjust="spacingAndGlyphs" >100.000</text><path d="M1846 592.5 L1857 597.0 L1846 601.5 Z" fill="#fff"/><text x="1858" y="603" font-size="17" fill="#eee" text-anchor="start" textLength="48" lengthAdjust="spacingAndGlyphs" >98.000</text><path d="M1846 690.0 L1857 694.5 L1846 699.0 Z" fill="#fff"/><text x="1858" y="700" font-size="17" fill="#eee" text-anchor="start" textLength="48" lengthAdjust="spacingAndGlyphs" >96.000</text><text x="141.5" y="789" font-size="17" fill="#eee" text-anchor="middle" textLength="24" lengthAdjust="spacingAndGlyphs" >Apr</text><text x="295.5" y="789" font-size="17" fill="#eee" text-anchor="middle" textLength="29" lengthAdjust="spacingAndGlyphs" >May</text><text x="445.5" y="789" font-size="17" fill="#eee" text-anchor="middle" textLength="27" lengthAdjust="spacingAndGlyphs" >Jun</text><text x="600" y="789" font-size="17" fill="#eee" text-anchor="middle" textLength="24" lengthAdjust="spacingAndGlyphs" >Jul</text><text x="754" y="789" font-size="17" fill="#eee" text-anchor="middle" textLength="29" lengthAdjust="spacingAndGlyphs" >Aug</text><text x="904" y="789" font-size="17" fill="#eee" text-anchor="middle" textLength="29" lengthAdjust="spacingAndGlyphs" >Sep</text><text x="1062" y="789" font-size="17" fill="#eee" text-anchor="middle" textLength="28" lengthAdjust="spacingAndGlyphs" >Oct</text><text x="1212" y="789" font-size="17" fill="#eee" text-anchor="middle" textLength="28" lengthAdjust="spacingAndGlyphs" >Nov</text><text x="1360" y="789" font-size="17" fill="#eee" text-anchor="middle" textLength="28" lengthAdjust="spacingAndGlyphs" >Dec</text><text x="1510" y="789" font-size="17" fill="#eee" text-anchor="middle" textLength="25" lengthAdjust="spacingAndGlyphs" >Jan</text><text x="1654" y="789" font-size="17" fill="#eee" text-anchor="middle" textLength="27" lengthAdjust="spacingAndGlyphs" >Feb</text><text x="1800" y="789" font-size="17" fill="#eee" text-anchor="middle" textLength="26" lengthAdjust="spacingAndGlyphs" >Mar</text><text x="718.5" y="809" font-size="18" fill="#eee" text-anchor="middle" textLength="35" lengthAdjust="spacingAndGlyphs" >2025</text><text x="1641.5" y="809" font-size="18" fill="#eee" text-anchor="middle" textLength="35" lengthAdjust="spacingAndGlyphs" >2026</text><rect x="1436.5" y="791" width="1.3" height="22" fill="#bbb" /><rect x="2" y="819" width="1916" height="15" fill="#1c1c1c" /><rect x="222" y="819" width="1.5" height="15" fill="#0c0c0c" /><rect x="1070" y="819" width="1.5" height="15" fill="#0c0c0c" /><rect x="0" y="0" width="1.5" height="834" fill="#2a8ff0" /><rect x="1918.5" y="0" width="1.5" height="834" fill="#2a8ff0" /><rect x="783.5" y="109" width="80.0" height="24.5" fill="#121212" fill-opacity="0.3"/><rect x="865" y="109" width="100.5" height="24.5" fill="#121212" fill-opacity="0.3"/><rect x="967" y="109" width="75.5" height="24.5" fill="#121212" fill-opacity="0.3"/><rect x="1045" y="109" width="77.5" height="24.5" fill="#121212" fill-opacity="0.3"/><text x="816.5" y="126.5" font-size="17" fill="#e0e0e0" textLength="41" lengthAdjust="spacingAndGlyphs">Track</text><text x="897.5" y="126.5" font-size="17" fill="#e0e0e0" textLength="62.5" lengthAdjust="spacingAndGlyphs">Annotate</text><text x="1000.5" y="126.5" font-size="17" fill="#e0e0e0" textLength="37" lengthAdjust="spacingAndGlyphs">News</text><text x="1077.5" y="126.5" font-size="17" fill="#e0e0e0" textLength="40" lengthAdjust="spacingAndGlyphs">Zoom</text><g stroke="#777" stroke-width="1.3" fill="none"><circle cx="799" cy="121" r="4.5"/><path d="M792.5 121H805.5M799 114.5V127.5"/></g><g stroke="#777" stroke-width="2.4" fill="none"><path d="M875.5 125.5L884.5 116.5M880 126.8H887"/></g><g stroke="#777" stroke-width="1.3" fill="none"><path d="M977 115.5H989M979 119H989M977 122.5H989M979 126H989M977 128H989"/></g><g stroke="#777" stroke-width="1.6" fill="none"><circle cx="1058.5" cy="119.5" r="4.5"/><path d="M1062 123L1067.5 128.5"/></g><rect x="1551" y="113" width="289" height="156" rx="3" fill="#0e0e0e" fill-opacity="0.3"/><g stroke="#888" stroke-width="1" fill="none"><rect x="1560.5" y="127.5" width="7" height="7"/><path d="M1562 131H1566M1564.5 135V252.5H1568.5M1564.5 152.5H1568.5M1564.5 172.5H1568.5M1564.5 192.5H1568.5M1564.5 212.5H1568.5M1564.5 232.5H1568.5"/></g><rect x="1572" y="124.5" width="16" height="14" fill="#fff"/><rect x="1572" y="204.5" width="16" height="14.5" fill="#e6008c"/><rect x="1572" y="224.5" width="16" height="14.5" fill="#1ab83a"/><rect x="1572" y="244.5" width="16" height="14.5" fill="#ffe81e"/><g stroke="#999" stroke-width="1.3" fill="none"><path d="M1576 145H1585M1580.5 145V159"/><path d="M1573 172.5H1588"/><circle cx="1580.5" cy="172.5" r="2"/><path d="M1580.5 185V199M1576 199H1585"/></g><text x="1592.5" y="138.5" font-size="16" fill="#eee" text-anchor="start" textLength="77" lengthAdjust="spacingAndGlyphs">Last Price</text><text x="1592.5" y="158.5" font-size="16" fill="#eee" text-anchor="start" textLength="132" lengthAdjust="spacingAndGlyphs">High on 03/26/25</text><text x="1592.5" y="178.5" font-size="16" fill="#eee" text-anchor="start" textLength="58.5" lengthAdjust="spacingAndGlyphs">Average</text><text x="1592.5" y="198.5" font-size="16" fill="#eee" text-anchor="start" textLength="128" lengthAdjust="spacingAndGlyphs">Low on 01/27/26</text><text x="1592.5" y="218.5" font-size="16" fill="#eee" text-anchor="start" textLength="88" lengthAdjust="spacingAndGlyphs">SMAVG (50)</text><text x="1694" y="218.5" font-size="16" fill="#eee" text-anchor="start" textLength="63" lengthAdjust="spacingAndGlyphs">on Close</text><text x="1592.5" y="238.5" font-size="16" fill="#eee" text-anchor="start" textLength="96" lengthAdjust="spacingAndGlyphs">SMAVG (100)</text><text x="1702" y="238.5" font-size="16" fill="#eee" text-anchor="start" textLength="64" lengthAdjust="spacingAndGlyphs">on Close</text><text x="1592.5" y="258.5" font-size="16" fill="#eee" text-anchor="start" textLength="96" lengthAdjust="spacingAndGlyphs">SMAVG (200)</text><text x="1702" y="258.5" font-size="16" fill="#eee" text-anchor="start" textLength="64" lengthAdjust="spacingAndGlyphs">on Close</text><text x="1783.0" y="138.5" font-size="16" fill="#eee" text-anchor="start" textLength="48.5" lengthAdjust="spacingAndGlyphs">99.569</text><text x="1774.5" y="158.5" font-size="16" fill="#eee" text-anchor="start" textLength="57" lengthAdjust="spacingAndGlyphs">104.683</text><text x="1783.0" y="178.5" font-size="16" fill="#eee" text-anchor="start" textLength="48.5" lengthAdjust="spacingAndGlyphs">98.946</text><text x="1783.0" y="198.5" font-size="16" fill="#eee" text-anchor="start" textLength="48.5" lengthAdjust="spacingAndGlyphs">95.551</text><text x="1783.0" y="218.5" font-size="16" fill="#eee" text-anchor="start" textLength="48.5" lengthAdjust="spacingAndGlyphs">98.177</text><text x="1783.0" y="238.5" font-size="16" fill="#eee" text-anchor="start" textLength="48.5" lengthAdjust="spacingAndGlyphs">98.628</text><text x="1783.0" y="258.5" font-size="16" fill="#eee" text-anchor="start" textLength="48.5" lengthAdjust="spacingAndGlyphs">98.378</text><path d="M1847.5 522 L1855.5 511.6 H1918 V532.3 H1855.5 Z" fill="#fff"/><text x="1857" y="528.5" font-size="17" fill="#000" text-anchor="start" textLength="48" lengthAdjust="spacingAndGlyphs" >99.569</text><path d="M1847.5 567.2 L1855.5 556.7 H1918 V577.8 H1855.5 Z" fill="#1ab83a"/><text x="1857" y="573.5" font-size="17" fill="#fff" text-anchor="start" textLength="48" lengthAdjust="spacingAndGlyphs" >98.628</text><path d="M1847.5 589.2 L1855.5 578.8 H1918 V599.5 H1855.5 Z" fill="#e6008c"/><text x="1857" y="596" font-size="17" fill="#fff" text-anchor="start" textLength="48" lengthAdjust="spacingAndGlyphs" >98.177</text><path d="M1850 574.5 L1853.5 578.7 L1850 583 L1846.5 578.7 Z" fill="#ffe81e"/></svg></body></html>
